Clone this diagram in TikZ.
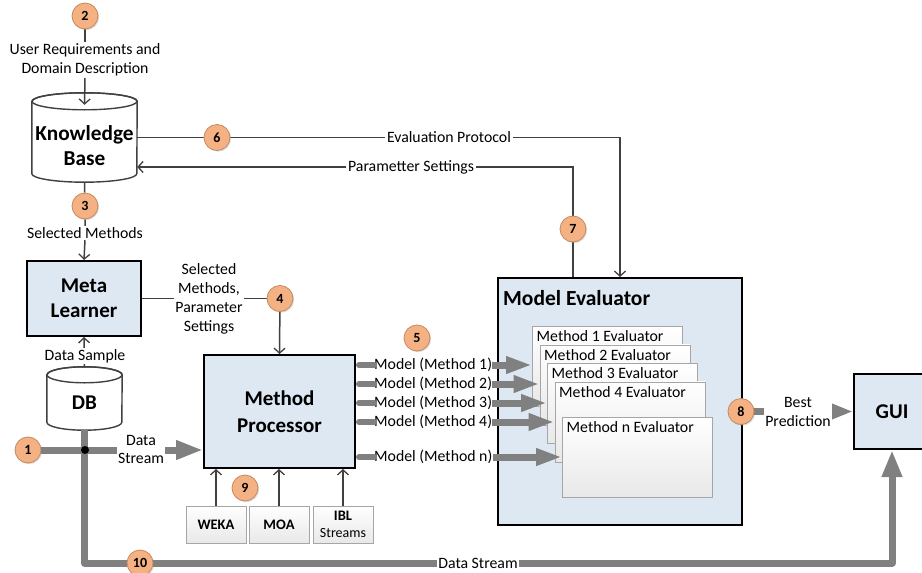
\documentclass[tikz,border=0pt]{standalone}
\usepackage{fontspec}
\setmainfont{Carlito}
\usetikzlibrary{arrows.meta,shadows}
\definecolor{boxblue}{HTML}{DEE8F2}
\definecolor{peach}{HTML}{F4B183}
\definecolor{peachedge}{HTML}{C48A5E}
\definecolor{linegray}{HTML}{404040}
\definecolor{flowgray}{HTML}{808080}
\definecolor{paleedge}{HTML}{A6A6A6}
\pgfdeclarelayer{bg}
\pgfsetlayers{bg,main}

% drum (database) outline around an invisible node: #1 node, #2 half width, #3 cap radius
\newcommand\cylpath[3]{%
  \path[draw=linegray, line width=1.4pt, fill=white]
    ([yshift=-#3pt]#1.north west) -- ([yshift=#3pt]#1.south west)
    arc[start angle=180, end angle=360, x radius=#2pt, y radius=#3pt]
    -- ([yshift=-#3pt]#1.north east)
    arc[start angle=0, end angle=180, x radius=#2pt, y radius=#3pt] -- cycle;
  \draw[linegray, line width=1.4pt] ([yshift=-#3pt]#1.north) ellipse[x radius=#2pt, y radius=#3pt];
}

\begin{document}
\begin{tikzpicture}[x=1pt, y=-1pt,
  txt/.style={font=\fontsize{15.8}{19}\selectfont, align=center, inner sep=1.5pt, text=black},
  txtbg/.style={txt, fill=white},
  badge/.style={circle, fill=peach, draw=peachedge, line width=0.8pt, minimum size=26pt,
    inner sep=0pt, font=\fontsize{14}{14}\selectfont\bfseries,
    drop shadow={opacity=0.25, shadow xshift=1.2pt, shadow yshift=-1.2pt}},
  conn/.style={draw=linegray, line width=1.5pt},
  arr/.style={conn, -{Straight Barb[length=5pt, width=11pt, line width=1.3pt]}},
  blockbox/.style={draw=black, line width=2pt, fill=boxblue, align=center, inner sep=0pt,
    font=\fontsize{21}{25}\selectfont\bfseries},
  flow/.style={draw=flowgray, line width=7pt},
  flowarr/.style={flow, -{Triangle[length=26pt, width=16pt]}},
  evbox/.style={draw=paleedge, line width=0.8pt, top color=white, bottom color=black!9,
    minimum width=150pt, minimum height=80pt, anchor=north west, inner sep=0pt},
  evtext/.style={txt, anchor=north west, inner sep=4.5pt},
  lib/.style={draw=paleedge, line width=0.8pt, top color=white, bottom color=black!9,
    minimum width=60pt, minimum height=37pt, align=center, inner sep=1pt,
    font=\fontsize{14.5}{17}\selectfont\bfseries}
]
\useasboundingbox (0,0) rectangle (922,573);
\clip (0,0) rectangle (922,573);

% storage drums (outline drawn on the bottom layer)
\node[minimum width=105pt, minimum height=89pt, inner sep=0pt] (kb) at (84.5,137.5) {};
\node[minimum width=75pt, minimum height=63pt, inner sep=0pt] (db) at (84.5,398.5) {};
\node[align=center, font=\fontsize{21.3}{25}\selectfont\bfseries] (kbl) at (84.5,146) {Knowledge\\Base};
\node[font=\fontsize{21}{25}\selectfont\bfseries] (dbl) at (84.5,403) {DB};

% processing blocks
\node[blockbox, minimum width=114pt, minimum height=75pt] (ml) at (84,298.5) {Meta\\Learner};
\node[blockbox, minimum width=151pt, minimum height=113pt, font=\fontsize{21}{27}\selectfont\bfseries] (mp) at (279.5,411.5) {Method\\Processor};
\node[blockbox, minimum width=244pt, minimum height=247pt] (me) at (620,401.5) {};
\node[anchor=west, font=\fontsize{21.5}{24}\selectfont\bfseries, inner sep=0pt] (met) at (503,298) {Model Evaluator};
\node[blockbox, minimum width=76pt, minimum height=75pt] (gui) at (892,411.5) {GUI};

% stacked evaluators
\node[evbox] (ev1) at (532,326) {};
\node[evtext] (ev1t) at (ev1.north west) {Method 1 Evaluator};
\node[evbox] (ev2) at (539.5,344.5) {};
\node[evtext] (ev2t) at (ev2.north west) {Method 2 Evaluator};
\node[evbox] (ev3) at (547,363) {};
\node[evtext] (ev3t) at (ev3.north west) {Method 3 Evaluator};
\node[evbox] (ev4) at (554.5,381.5) {};
\node[evtext] (ev4t) at (ev4.north west) {Method 4 Evaluator};
\node[evbox] (evn) at (562,417) {};
\node[evtext] (evnt) at (evn.north west) {Method n Evaluator};

% learning libraries
\node[lib] (weka) at (216,524.5) {WEKA};
\node[lib] (moa) at (279,524.5) {MOA};
\node[lib] (ibl) at (343,524.5) {IBL\\{\mdseries\fontsize{14}{17}\selectfont Streams}};

% labels
\node[txtbg] (ureq) at (85,60) {User Requirements and\\Domain Description};
\node[txtbg] (selm) at (85,233) {Selected Methods};
\node[txtbg] (smp) at (209,298.5) {Selected\\Methods,\\Parameter\\Settings};
\node[txtbg] (dsamp) at (85,356) {Data Sample};
\node[txtbg, font=\fontsize{15.8}{18}\selectfont] (dstr) at (141,449) {Data\\Stream};
\node[txtbg] (ep) at (449,137.5) {Evaluation Protocol};
\node[txtbg] (ps) at (411,167) {Parametter Settings};
\node[txtbg] (ds2) at (478,563) {Data Stream};
\node[txtbg] (bp) at (798,411.5) {Best\\Prediction};

\node[txt, anchor=west, inner sep=0pt] (m1) at (374,365) {Model (Method 1)};
\node[txt, anchor=west, inner sep=0pt] (m2) at (374,384) {Model (Method 2)};
\node[txt, anchor=west, inner sep=0pt] (m3) at (374,403) {Model (Method 3)};
\node[txt, anchor=west, inner sep=0pt] (m4) at (374,422) {Model (Method 4)};
\node[txt, anchor=west, inner sep=0pt] (mn) at (374,457) {Model (Method n)};

% step badges
\node[badge] (b1) at (28,450) {1};
\node[badge] (b2) at (85,16) {2};
\node[badge] (b3) at (85,206) {3};
\node[badge] (b4) at (280,298.5) {4};
\node[badge] (b5) at (417,338) {5};
\node[badge] (b6) at (217,137.5) {6};
\node[badge] (b7) at (573,229) {7};
\node[badge] (b8) at (741,411.5) {8};
\node[badge] (b9) at (245,488) {9};
\node[badge] (b10) at (140,563) {10};

\coordinate (jn) at (85,450);
\fill[black] (jn) circle[radius=4pt];

\begin{pgfonlayer}{bg}
  \cylpath{kb}{52.5}{8.5}
  \cylpath{db}{37.5}{8}

  % thin control flow
  \draw[conn] (b2) -- (ureq);
  \draw[arr] (ureq.south) -- ([yshift=-12pt]kb.north);
  \draw[conn] (kb.south) -- (b3) -- (selm);
  \draw[arr] (selm.south) -- (ml.north);
  \draw[conn] (ml.east) -- (smp) -- (b4);
  \draw[arr] (b4) -- (mp.north);
  \draw[arr] (db.north) -- (ml.south);
  \draw[conn] (kb.east) -- (b6) -- (ep);
  \draw[arr] (ep.east) -| (me.north);
  \draw[conn] ([xshift=-47pt]me.north) -- (b7);
  \draw[conn] (b7) |- (ps.east);
  \draw[arr] (ps.west) -- (kb.east |- ps);
  \draw[arr] (weka.north) -- (weka.north |- mp.south);
  \draw[arr] (moa.north) -- (moa.north |- mp.south);
  \draw[arr] (ibl.north) -- (ibl.north |- mp.south);

  % data stream flow
  \draw[flow, -{Triangle[length=27pt, width=18pt]}] (b1) -- (mp.west |- b1);
  \draw[flow, line join=round, -{Triangle[length=27pt, width=19pt]}] (db.south) |- (b10) -| (gui.south);
  \draw[flow, -{Triangle[length=22pt, width=15pt]}] (b8) -- (gui.west);
\end{pgfonlayer}

% model outputs
\foreach \m/\e in {m1/ev1, m2/ev2, m3/ev3, m4/ev4, mn/evn}{
  \draw[flow, line width=6pt, line cap=round] ([xshift=3pt]mp.east |- \m) -- (\m.west);
  \draw[flowarr] (\m.east) -- (\e.west |- \m);
}
\end{tikzpicture}
\end{document}
